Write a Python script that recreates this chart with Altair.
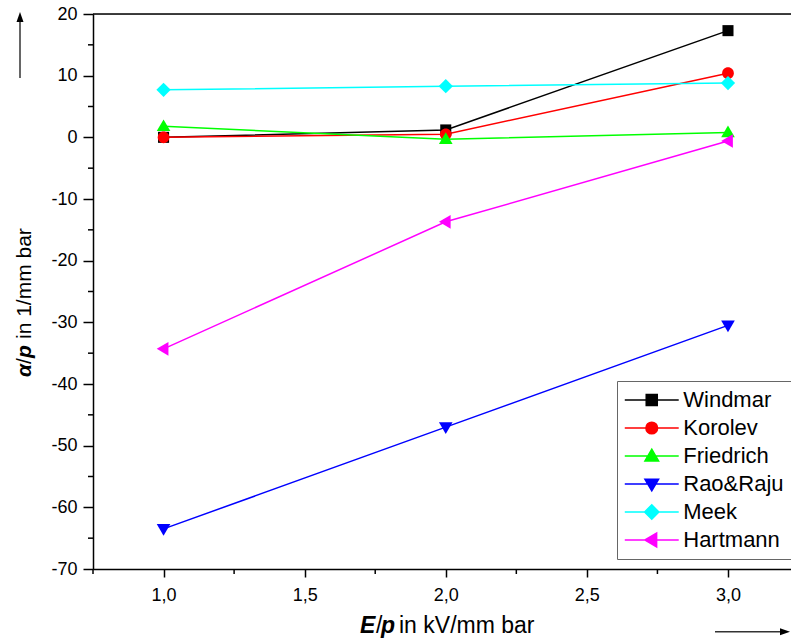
import altair as alt
import pandas as pd

# ---------------- data ----------------
series = ["Windmar", "Korolev", "Friedrich", "Rao&Raju", "Meek", "Hartmann"]
colors = ["#000000", "#FF0000", "#00FF00", "#0000FF", "#00FFFF", "#FF00FF"]
e_over_p = [1.0, 2.0, 3.0]
windmar = [0.0, 1.2, 17.3]
korolev = [0.0, 0.5, 10.4]
friedrich = [1.8, -0.3, 0.8]
rao_raju = [-63.5, -47.0, -30.5]
meek = [7.7, 8.3, 8.8]
hartmann = [-34.3, -13.7, -0.6]
x_ticks = [1.0, 1.5, 2.0, 2.5, 3.0]
x_minor = [0.75, 1.25, 1.75, 2.25, 2.75]
y_ticks = [-70, -60, -50, -40, -30, -20, -10, 0, 10, 20]
y_minor = [-65, -55, -45, -35, -25, -15, -5, 5, 15]

values = [windmar, korolev, friedrich, rao_raju, meek, hartmann]
rows = []
for name, ys in zip(series, values):
    for xv, yv in zip(e_over_p, ys):
        rows.append({"series": name, "E": xv, "alpha": yv})
df = pd.DataFrame(rows)

# marker glyphs (square, circle, triangle up/down, diamond, triangle left)
marker_paths = [
    "M-0.85,-0.85H0.85V0.85H-0.85Z",
    "M-0.9,0A0.9,0.9,0,1,1,0.9,0A0.9,0.9,0,1,1,-0.9,0Z",
    "M0,-1.05L1.05,0.75L-1.05,0.75Z",
    "M0,1.05L1.05,-0.75L-1.05,-0.75Z",
    "M0,-1.1L1.1,0L0,1.1L-1.1,0Z",
    "M-1.05,0L0.75,-1.05L0.75,1.05Z",
]
# legend symbols: line segment + marker
L = 4.15
legend_paths = [f"M-{L},0H{L}" + p for p in marker_paths]

W, H = 698, 555
PAD_L, PAD_T = 93, 14
PAD_B = 644 - PAD_T - H
FONT = "Liberation Sans"

xscale = alt.Scale(domain=[0.75, 3.2233], nice=False, zero=False)
yscale = alt.Scale(domain=[-70, 20], nice=False, zero=False)

xaxis = alt.Axis(values=x_ticks, labelExpr="replace(format(datum.value, '.1f'), '.', ',')",
                 title=None, grid=False, tickSize=8, tickWidth=1.5, domainWidth=1.5,
                 domainColor="black", tickColor="black", labelColor="black",
                 labelFont=FONT, labelFontSize=18, labelPadding=9)
yaxis = alt.Axis(values=y_ticks, labelExpr="'' + datum.value", title=None, grid=False,
                 tickSize=10, tickWidth=1.5, domainWidth=1.5, domainColor="black",
                 tickColor="black", labelColor="black", labelFont=FONT,
                 labelFontSize=18, labelPadding=6)

color = alt.Color("series:N", scale=alt.Scale(domain=series, range=colors), legend=None)

lines = alt.Chart(df).mark_line(strokeWidth=1.5).encode(
    x=alt.X("E:Q", scale=xscale, axis=xaxis),
    y=alt.Y("alpha:Q", scale=yscale, axis=yaxis),
    color=color,
    detail="series:N",
)
points = alt.Chart(df).mark_point(filled=True, opacity=1, size=169).encode(
    x=alt.X("E:Q", scale=xscale, axis=xaxis),
    y=alt.Y("alpha:Q", scale=yscale, axis=yaxis),
    color=color,
    shape=alt.Shape("series:N", scale=alt.Scale(domain=series, range=marker_paths), legend=None),
)

legend_kw = dict(title=None, orient="none", legendX=524, legendY=367, padding=8,
                 strokeColor="#666666", fillColor="white", labelFont=FONT,
                 labelFontSize=22, labelColor="black", symbolSize=169,
                 symbolStrokeWidth=1.5, rowPadding=6, labelOffset=20.5,
                 symbolOffset=15.75, labelLimit=0)
legend_layer = alt.Chart(df).mark_point(filled=True, opacity=1, strokeWidth=1.5).encode(
    fill=alt.Fill("series:N", scale=alt.Scale(domain=series, range=colors), legend=alt.Legend(**legend_kw)),
    stroke=alt.Stroke("series:N", scale=alt.Scale(domain=series, range=colors), legend=alt.Legend(**legend_kw)),
    shape=alt.Shape("series:N", scale=alt.Scale(domain=series, range=legend_paths), legend=alt.Legend(**legend_kw)),
).transform_filter("false")

# minor ticks
xminor = alt.Chart(pd.DataFrame({"v": x_minor})).mark_rule(color="black", strokeWidth=1.5).encode(
    x=alt.X("v:Q", scale=xscale, axis=xaxis), y=alt.value(H), y2=alt.value(H + 5))
yminor = alt.Chart(pd.DataFrame({"v": y_minor})).mark_rule(color="black", strokeWidth=1.5).encode(
    y=alt.Y("v:Q", scale=yscale, axis=yaxis), x=alt.value(-5), x2=alt.value(0))

one = alt.Data(values=[{"k": 1}])
top_line = alt.Chart(one).mark_rule(color="black", strokeWidth=1.5).encode(
    x=alt.value(0), x2=alt.value(W), y=alt.value(0))

# arrows
up_line = alt.Chart(one).mark_rule(color="#333333", strokeWidth=1.5).encode(
    x=alt.value(-73), y=alt.value(64), y2=alt.value(4))
up_head = alt.Chart(one).mark_point(shape="M0,-1L0.7,1L-0.7,1Z", size=100, filled=True,
                                    color="black", opacity=1).encode(
    x=alt.value(-73), y=alt.value(3))
right_line = alt.Chart(one).mark_rule(color="#333333", strokeWidth=1.5).encode(
    x=alt.value(622), x2=alt.value(690), y=alt.value(617.7))
right_head = alt.Chart(one).mark_point(shape="M1,0L-1,-0.7L-1,0.7Z", size=100, filled=True,
                                       color="black", opacity=1).encode(
    x=alt.value(692), y=alt.value(617.7))

def txt(s, x, y, size, bold=False, italic=False, angle=0, baseline="alphabetic"):
    kw = dict(align="left", baseline=baseline, font=FONT, fontSize=size, color="black",
              fontWeight="bold" if bold else "normal",
              fontStyle="italic" if italic else "normal")
    if angle:
        kw["angle"] = angle
    return alt.Chart(one).mark_text(**kw).encode(
        x=alt.value(x), y=alt.value(y), text=alt.value(s))

xt_y = 619
x_title = [
    txt("E", 267, xt_y, 23, True, True),
    txt("/", 283, xt_y, 23),
    txt("p", 288, xt_y, 23, True, True),
    txt("in kV/mm bar", 306, xt_y, 23),
]
yt_x = -68
y_title = [
    txt("\u03b1", yt_x, 363, 21, True, True, 270, "middle"),
    txt("/", yt_x, 350, 21, False, False, 270, "middle"),
    txt("p", yt_x, 344, 21, True, True, 270, "middle"),
    txt("in 1/mm bar", yt_x, 325, 21, False, False, 270, "middle"),
]

chart = alt.layer(
    lines, points, xminor, yminor, top_line, legend_layer,
    up_line, up_head, right_line, right_head, *x_title, *y_title,
).resolve_scale(shape="independent", fill="independent", stroke="independent").properties(
    width=W, height=H,
    autosize=alt.AutoSizeParams(type="none"),
    padding={"left": PAD_L, "top": PAD_T, "right": 0, "bottom": PAD_B},
).configure_view(stroke=None).configure(background="white")

chart.save("out.html", embed_options={"renderer": "svg", "actions": False})
